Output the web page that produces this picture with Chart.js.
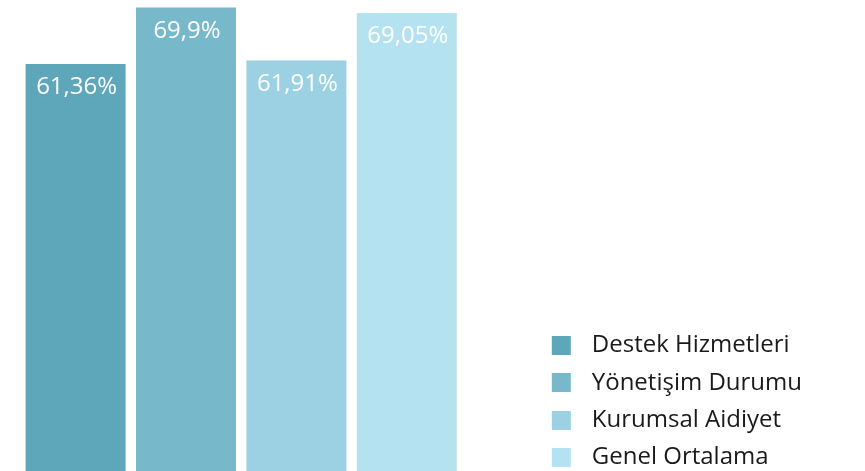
<!DOCTYPE html>
<html>
<head>
<meta charset="utf-8">
<script src="https://cdn.jsdelivr.net/npm/chart.js@4/dist/chart.umd.min.js"></script>
<style>
  html, body { margin: 0; padding: 0; overflow: hidden; background: #ffffff; }
  #wrap { width: 865px; height: 471px; overflow: hidden; }
  canvas { display: block; }
</style>
</head>
<body>
<div id="wrap"><canvas id="c" width="865" height="483"></canvas></div>
<script>
// ---- data ----
const categories = ['Destek Hizmetleri', 'Yönetişim Durumu', 'Kurumsal Aidiyet', 'Genel Ortalama'];
const values = [61.36, 69.9, 61.91, 69.05];
const colors = ['#5ea7bb', '#77b8cb', '#9bd1e2', '#b5e2f1'];
const xLabels = [''];

const FONT = '"Open Sans", "Noto Sans", sans-serif';
const LEGEND_FS = 24;
const LABEL_FS = 24;

// legend markers: transparent strip with a coloured square at its right part
function makeMarker(color) {
  const c = document.createElement('canvas');
  c.width = 84; c.height = 19;
  const g = c.getContext('2d');
  g.fillStyle = color;
  g.fillRect(56, 0, 19, 19);
  return c;
}
const markers = colors.map(makeMarker);

const valueLabels = {
  id: 'valueLabels',
  afterDatasetsDraw(chart) {
    const ctx = chart.ctx;
    ctx.save();
    ctx.font = '400 ' + LABEL_FS + 'px ' + FONT;
    ctx.fillStyle = '#ffffff';
    ctx.textAlign = 'center';
    ctx.textBaseline = 'middle';
    chart.data.datasets.forEach((ds, i) => {
      const meta = chart.getDatasetMeta(i);
      meta.data.forEach((el, j) => {
        const v = ds.data[j];
        const txt = String(v).replace('.', ',') + '%';
        ctx.fillText(txt, el.x + 1, el.y + 23.5);
      });
    });
    ctx.restore();
  }
};

const chart = new Chart(document.getElementById('c'), {
  type: 'bar',
  data: {
    labels: xLabels,
    datasets: categories.map((name, i) => ({
      label: name,
      data: [values[i]],
      backgroundColor: colors[i],
      borderWidth: 0,
      categoryPercentage: 0.9154,
      barPercentage: 0.9058
    }))
  },
  options: {
    responsive: false,
    animation: false,
    layout: { padding: { left: 0, right: 60, top: 0, bottom: 0 } },
    scales: {
      x: { display: false },
      y: { display: false, min: -1.81, max: 71.02 }
    },
    plugins: {
      tooltip: { enabled: false },
      legend: {
        position: 'right',
        align: 'end',
        labels: {
          usePointStyle: true,
          pointStyleWidth: 84,
          padding: 13.4,
          color: '#1a1a1a',
          font: { family: FONT, size: LEGEND_FS },
          generateLabels(ch) {
            const items = Chart.defaults.plugins.legend.labels.generateLabels(ch);
            items.forEach((it, i) => { it.pointStyle = markers[i]; });
            return items;
          }
        }
      }
    }
  },
  plugins: [valueLabels]
});

// align plot area right edge
const targetRight = 482.4;
const diff = chart.chartArea.right - targetRight;
chart.options.layout.padding.right = 60 + diff;
chart.update('none');
</script>
</body>
</html>
